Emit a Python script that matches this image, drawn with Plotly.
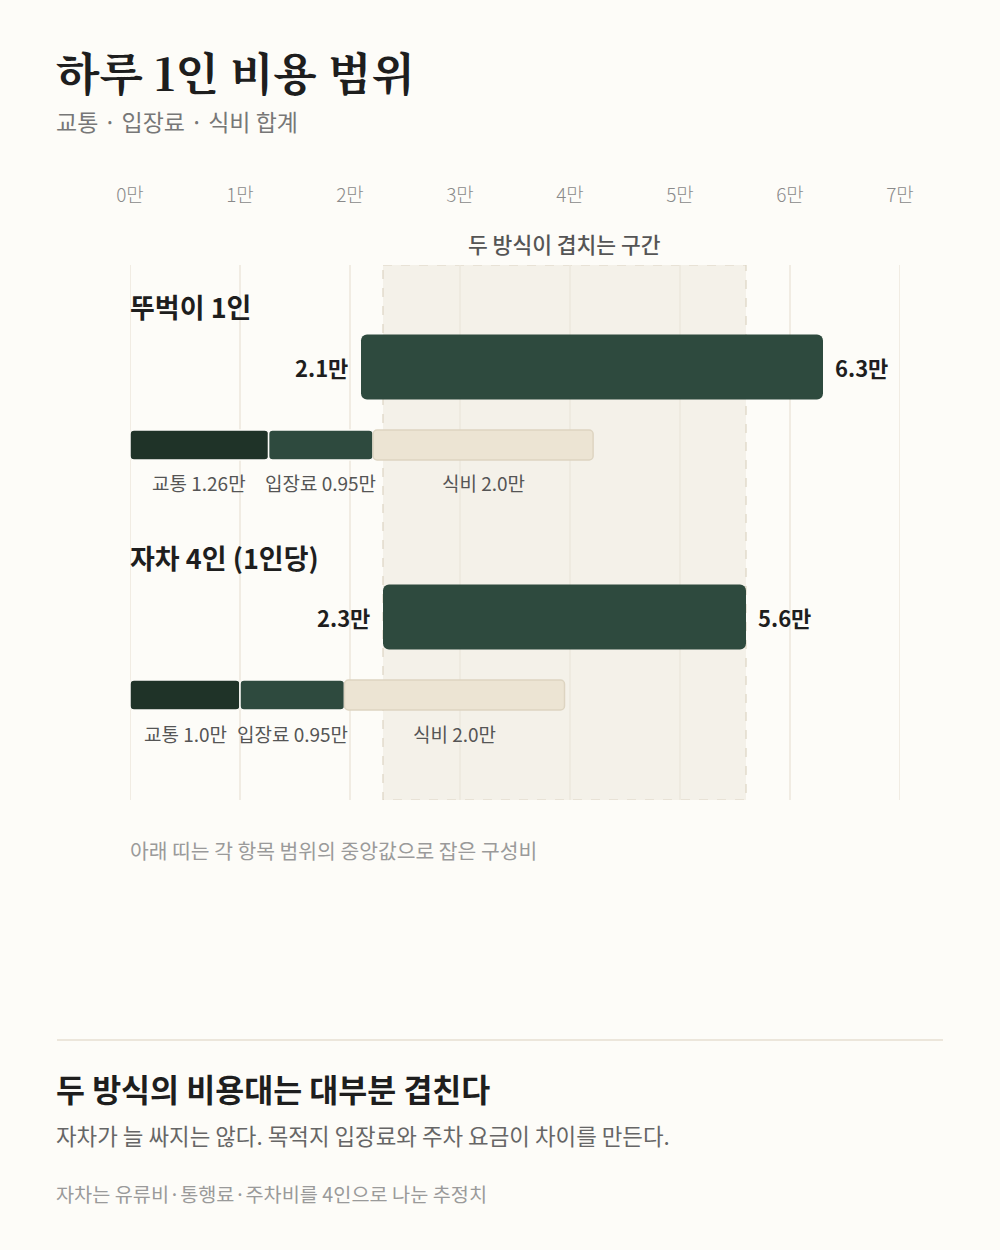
import plotly.graph_objects as go

# values in 만원
groups = ["뚜벅이 1인", "자차 4인 (1인당)"]
range_low = [2.1, 2.3]
range_high = [6.3, 5.6]
part_names = ["교통", "입장료", "식비"]
part_values = [
    [1.26, 0.95, 2.0],
    [1.0, 0.95, 2.0],
]
tick_vals = [0, 1, 2, 3, 4, 5, 6, 7]
tick_text = [f"{v}만" for v in tick_vals]

BG = "#fdfcf8"
GRID = "#ece7dc"
MAIN = "#2e4a3e"
PART_COLORS = ["#1f3328", "#2e4a3e", "#ece4d3"]
PART_LINES = [BG, BG, "#ddd4c1"]
SANS = "Noto Sans CJK KR, Noto Sans, sans-serif"
SERIF = "Noto Serif CJK KR, Noto Serif KR, serif"

W, H = 1000, 1250
PLOT_TOP, PLOT_BOTTOM = 265, 800
# row layout (pixels from top)
label_y = [307, 557]
main_y = [367, 617]
part_y = [445, 695]
part_label_y = [483, 733]


def fmt(v):
    s = f"{v:.2f}"
    return s[:-1] if s.endswith("0") else s


fig = go.Figure()

# overlap zone first, then gridlines on top of it
ov_lo = max(range_low)
ov_hi = min(range_high)
fig.add_shape(
    type="rect", layer="below", xref="x", yref="y",
    x0=ov_lo, x1=ov_hi, y0=PLOT_TOP, y1=PLOT_BOTTOM,
    fillcolor="#f4f1e9", line=dict(color="#dcd4c3", width=1.2, dash="dash"),
)
for t in tick_vals:
    fig.add_shape(
        type="line", layer="below", xref="x", yref="y",
        x0=t, x1=t, y0=PLOT_TOP, y1=PLOT_BOTTOM,
        line=dict(color=GRID, width=1.5),
    )

for i, g in enumerate(groups):
    fig.add_trace(go.Bar(
        orientation="h",
        y=[main_y[i]],
        base=[range_low[i]],
        x=[range_high[i] - range_low[i]],
        width=65,
        marker=dict(color=MAIN, line=dict(width=0), cornerradius=6),
        hoverinfo="skip",
        showlegend=False,
    ))
    start = 0.0
    for j, v in enumerate(part_values[i]):
        fig.add_trace(go.Bar(
            orientation="h",
            y=[part_y[i]],
            base=[start],
            x=[v],
            width=30,
            marker=dict(color=PART_COLORS[j],
                        line=dict(width=1.5, color=PART_LINES[j]),
                        cornerradius=4),
            hoverinfo="skip",
            showlegend=False,
        ))
        fig.add_annotation(
            x=start + v / 2, y=part_label_y[i], text=f"{part_names[j]} {fmt(v)}만",
            showarrow=False, xanchor="center", yanchor="middle",
            font=dict(family=SANS, size=19, color="#555555"),
        )
        start += v

    fig.add_annotation(
        x=0, y=label_y[i], text=f"<b>{g}</b>", showarrow=False,
        xanchor="left", yanchor="middle", xshift=-2,
        font=dict(family=SANS, size=27, color="#1e1e1e"),
    )
    fig.add_annotation(
        x=range_low[i], y=main_y[i], text=f"<b>{range_low[i]}만</b>",
        showarrow=False, xanchor="right", yanchor="middle", xshift=-11,
        font=dict(family=SANS, size=22, color="#1e1e1e"),
    )
    fig.add_annotation(
        x=range_high[i], y=main_y[i], text=f"<b>{range_high[i]}만</b>",
        showarrow=False, xanchor="left", yanchor="middle", xshift=10,
        font=dict(family=SANS, size=22, color="#1e1e1e"),
    )

fig.add_annotation(
    x=(ov_lo + ov_hi) / 2, yref="paper", y=1 - 243 / H, text="두 방식이 겹치는 구간",
    showarrow=False, xanchor="center", yanchor="middle",
    font=dict(family=SANS, size=21.5, color="#555555", weight=500),
)


# paper-level texts
def ptext(x, y, text, size, color, family=SANS, weight=None):
    font = dict(family=family, size=size, color=color)
    if weight:
        font["weight"] = weight
    fig.add_annotation(
        xref="paper", yref="paper", x=x / W, y=1 - y / H, text=text,
        showarrow=False, xanchor="left", yanchor="middle", font=font,
    )


ptext(54, 72, "<b>하루 1인 비용 범위</b>", 45, "#1e1e1e", family=SERIF)
ptext(54, 121, "교통 · 입장료 · 식비 합계", 23, "#777777")
ptext(128, 850, "아래 띠는 각 항목 범위의 중앙값으로 잡은 구성비", 20.4, "#9a9a9a")
ptext(54, 1088, "<b>두 방식의 비용대는 대부분 겹친다</b>", 31.5, "#1e1e1e")
ptext(54, 1135, "자차가 늘 싸지는 않다. 목적지 입장료와 주차 요금이 차이를 만든다.", 22.4, "#666666")
ptext(54, 1193, "자차는 유류비·통행료·주차비를 4인으로 나눈 추정치", 19.7, "#9a9a9a")

fig.add_shape(
    type="line", xref="paper", yref="paper",
    x0=57 / W, x1=943 / W, y0=1 - 1040 / H, y1=1 - 1040 / H,
    line=dict(color="#e6dfd2", width=1.5),
)

fig.update_layout(
    width=W, height=H,
    margin=dict(l=0, r=0, t=0, b=0, autoexpand=False),
    paper_bgcolor=BG, plot_bgcolor="rgba(0,0,0,0)",
    barmode="overlay",
    showlegend=False,
    xaxis=dict(
        domain=[130 / W, 900 / W], range=[0, 7], side="top",
        tickvals=tick_vals, ticktext=tick_text,
        tickfont=dict(family=SANS, size=19, color="#8a8a8a", weight=300),
        showgrid=False, zeroline=False, showline=False, ticks="",
        ticklabelstandoff=58, automargin=False, fixedrange=True,
    ),
    yaxis=dict(
        domain=[1 - PLOT_BOTTOM / H, 1 - PLOT_TOP / H],
        range=[PLOT_BOTTOM, PLOT_TOP],
        visible=False, fixedrange=True, automargin=False,
    ),
)

fig.write_html(
    "out.html",
    config={"displayModeBar": False},
    post_script="document.body.style.margin='0';document.body.style.background='#fdfcf8';",
)
